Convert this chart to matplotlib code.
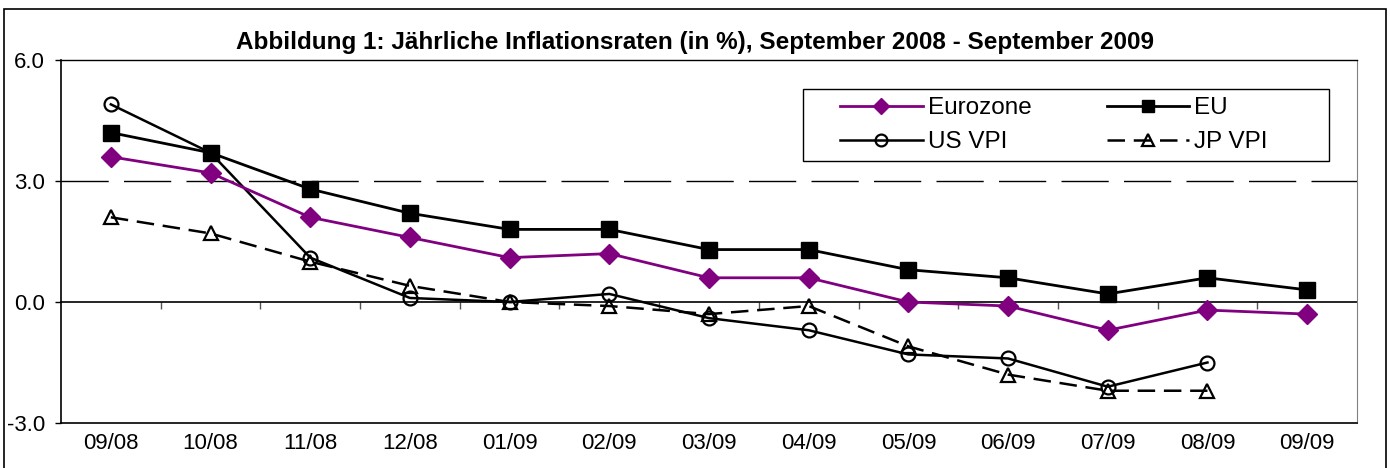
import matplotlib
matplotlib.use("Agg")
import matplotlib.pyplot as plt
import numpy as np
from matplotlib.patches import Rectangle

plt.rcParams['font.family'] = ['Liberation Sans', 'DejaVu Sans']

months = ['09/08', '10/08', '11/08', '12/08', '01/09', '02/09', '03/09',
          '04/09', '05/09', '06/09', '07/09', '08/09', '09/09']
eurozone = [3.6, 3.2, 2.1, 1.6, 1.1, 1.2, 0.6, 0.6, 0.0, -0.1, -0.7, -0.2, -0.3]
eu = [4.2, 3.7, 2.8, 2.2, 1.8, 1.8, 1.3, 1.3, 0.8, 0.6, 0.2, 0.6, 0.3]
us_vpi = [4.9, 3.7, 1.1, 0.1, 0.0, 0.2, -0.4, -0.7, -1.3, -1.4, -2.1, -1.5, np.nan]
jp_vpi = [2.1, 1.7, 1.0, 0.4, 0.0, -0.1, -0.3, -0.1, -1.1, -1.8, -2.2, -2.2, np.nan]

x = np.arange(len(months))
W, H = 1390, 468

fig = plt.figure(figsize=(13.9, 4.68), dpi=100)
ax = fig.add_axes([61/W, 1-423/H, 1296/W, 363/H])

# outer chart border
fig.patches.append(Rectangle((4/W, -0.1), 1382/W, 0.1+1-9/H,
                             transform=fig.transFigure, fill=False,
                             edgecolor='black', linewidth=1.2))

# dashed gridline at 3.0
ax.axhline(3.0, color='black', linewidth=1, dashes=(34, 11), zorder=1)

l_ez, = ax.plot(x, eurozone, color='#800080', linewidth=2, marker='D', markersize=10,
                label='Eurozone', zorder=4)
l_eu, = ax.plot(x, eu, color='black', linewidth=2, marker='s', markersize=11,
                label='EU', zorder=4)
l_us, = ax.plot(x, us_vpi, color='black', linewidth=1.8, marker='o', markersize=10,
                markerfacecolor='none', markeredgewidth=1.6, label='US VPI', zorder=3)
l_jp, = ax.plot(x, jp_vpi, color='black', linewidth=1.8, dashes=(7, 3.5), marker='^',
                markersize=10, markerfacecolor='none', markeredgewidth=1.6,
                label='JP VPI', zorder=3)

ax.set_xlim(-0.5, 12.5)
ax.set_ylim(-3, 6)
ax.set_yticks([-3, 0, 3, 6])
ax.set_yticklabels(['-3.0', '0.0', '3.0', '6.0'], fontsize=16)
ax.tick_params(axis='y', direction='out', length=4.5, width=1, pad=7)

ax.set_xticks(x)
ax.set_xticklabels(months, fontsize=16)
ax.tick_params(axis='x', length=0, pad=7)

# x axis line at zero with boundary ticks
sec = ax.secondary_xaxis(1/3)
sec.set_xticks(np.arange(0.5, 12.5, 1.0))
sec.set_xticklabels([])
sec.tick_params(axis='x', direction='out', length=5, width=1, color='#555555')
sec.spines['bottom'].set_linewidth(1.2)

ax.spines['right'].set_color('#808080')
ax.spines['top'].set_linewidth(1)
ax.spines['left'].set_linewidth(1.2)
ax.spines['bottom'].set_linewidth(1.2)

# legend box drawn separately, legend itself without frame
fig.patches.append(Rectangle((803/W, 1-161/H), 526/W, 72/H,
                             transform=fig.transFigure, fill=True,
                             facecolor='white', edgecolor='black',
                             linewidth=1, zorder=5))
leg = fig.legend([l_ez, l_us, l_eu, l_jp], ['Eurozone', 'US VPI', 'EU', 'JP VPI'],
                 loc='upper left', bbox_to_anchor=(840/W, 1-97/H), ncol=2,
                 fontsize=17.5, frameon=False, handlelength=3.4,
                 borderpad=0, borderaxespad=0, labelspacing=0.5,
                 handletextpad=0.2, columnspacing=3.1, markerscale=0.85)
leg.set_zorder(6)

fig.text(0.5, 1-42/H, 'Abbildung 1: Jährliche Inflationsraten (in %), September 2008 - September 2009',
         ha='center', va='center', fontsize=17.5, fontweight='bold')

fig.savefig('out.png', dpi=100)
